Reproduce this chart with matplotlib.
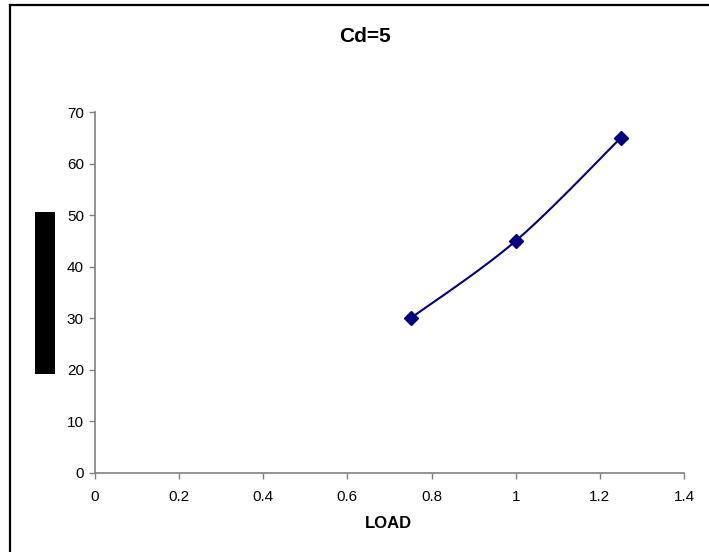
import numpy as np
import matplotlib
matplotlib.use("Agg")
import matplotlib.pyplot as plt
from matplotlib.patches import Rectangle
from matplotlib.lines import Line2D

plt.rcParams['font.family'] = ['Liberation Sans', 'DejaVu Sans']

load = [0.75, 1.0, 1.25]
values = [30, 45, 65]
title = "Cd=5"
xlabel = "LOAD"
xticks = [0, 0.2, 0.4, 0.6, 0.8, 1, 1.2, 1.4]
xticklabels = ["0", "0.2", "0.4", "0.6", "0.8", "1", "1.2", "1.4"]
yticks = [0, 10, 20, 30, 40, 50, 60, 70]

W, H = 709, 552
fig = plt.figure(figsize=(W / 100, H / 100), dpi=100)
fig.patch.set_facecolor('white')

# figure border (top and left visible only)
fig.lines.append(Line2D([10 / W, 1.0], [1 - 4.5 / H, 1 - 4.5 / H], transform=fig.transFigure,
                        color='black', linewidth=1.6))
fig.lines.append(Line2D([10 / W, 10 / W], [0, 1 - 4.5 / H], transform=fig.transFigure,
                        color='black', linewidth=1.6))

ax = fig.add_axes([95 / W, (H - 473) / H, (684 - 95) / W, (473 - 112) / H])

# Excel-style smoothed line (cubic Bezier through points)
pts = np.column_stack([load, values]).astype(float)
n = len(pts)
curve = []
for i in range(n - 1):
    p0 = pts[max(i - 1, 0)]
    p1 = pts[i]
    p2 = pts[i + 1]
    p3 = pts[min(i + 2, n - 1)]
    c1 = p1 + (p2 - p0) / 6.0
    c2 = p2 - (p3 - p1) / 6.0
    t = np.linspace(0, 1, 40)[:, None]
    seg = (1 - t) ** 3 * p1 + 3 * (1 - t) ** 2 * t * c1 + 3 * (1 - t) * t ** 2 * c2 + t ** 3 * p2
    curve.append(seg)
curve = np.vstack(curve)
ax.plot(curve[:, 0], curve[:, 1], color='#000080', linewidth=1.5, zorder=2)
ax.plot(load, values, linestyle='none', marker='D', markersize=7, color='#000080', zorder=3)

ax.set_xlim(0, 1.4)
ax.set_ylim(0, 70)
ax.set_xticks(xticks)
ax.set_xticklabels(xticklabels)
ax.set_yticks(yticks)
for s in ['top', 'right']:
    ax.spines[s].set_visible(False)
for s in ['left', 'bottom']:
    ax.spines[s].set_color('#808080')
    ax.spines[s].set_linewidth(1.2)
ax.tick_params(axis='both', direction='out', length=4, width=1, color='#808080',
               labelsize=11, labelcolor='black', pad=4)
ax.tick_params(axis='x', pad=8)

fig.text(365 / W, 1 - 36 / H, title, ha='center', va='center', fontsize=15, fontweight='bold')
fig.text(388 / W, 1 - 524 / H, xlabel, ha='center', va='center', fontsize=12, fontweight='bold')

# black block at left (as in reference)
fig.patches.append(Rectangle((35 / W, 1 - 374 / H), 20 / W, (374 - 212) / H, transform=fig.transFigure,
                             facecolor='black', edgecolor='none'))

fig.savefig('out.png', dpi=100, facecolor='white')
